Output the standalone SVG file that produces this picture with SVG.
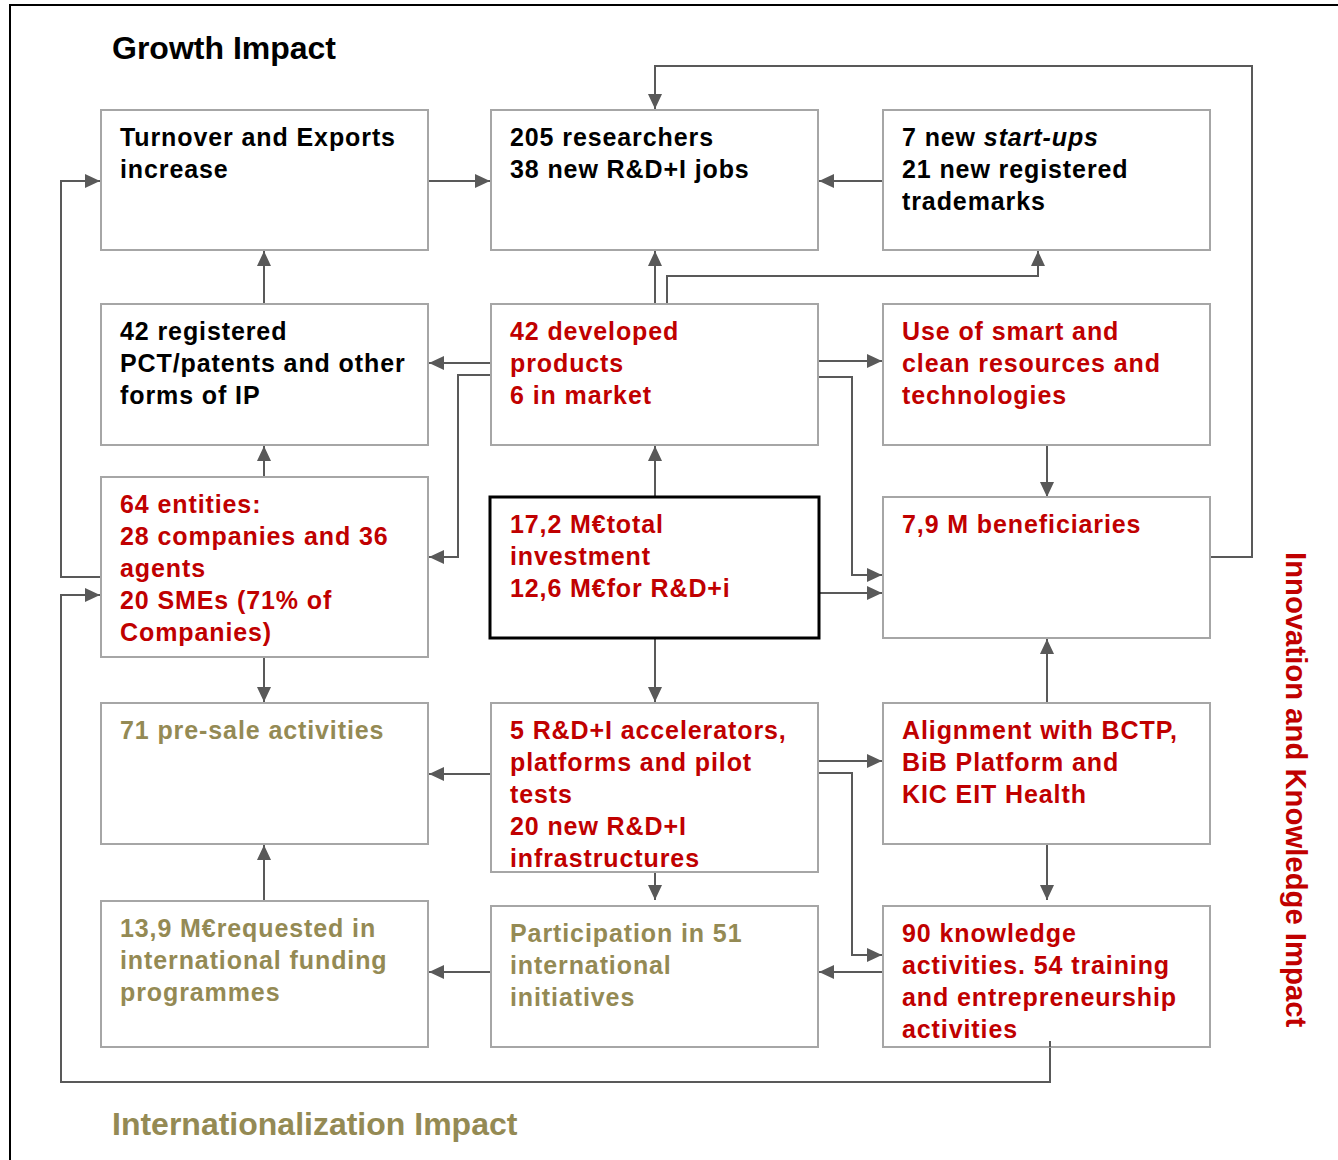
<svg xmlns="http://www.w3.org/2000/svg" width="1338" height="1160" viewBox="0 0 1338 1160">
<style>
.box{fill:#fff;stroke:#A6A6A6;stroke-width:2}
.main{fill:#fff;stroke:#000;stroke-width:3}
.t{font-family:"Liberation Sans",Arial,sans-serif;font-weight:bold;font-size:25px;letter-spacing:0.9px}
.k{fill:#000}.r{fill:#C00000}.o{fill:#948A54}
.c{fill:none;stroke:#595959;stroke-width:2}
.title{font-family:"Liberation Sans",Arial,sans-serif;font-weight:bold;font-size:32px}
</style>
<defs>
<marker id="ah" markerUnits="userSpaceOnUse" markerWidth="16" markerHeight="16" refX="15" refY="8" orient="auto">
<path d="M0,1 L15,8 L0,15 z" fill="#595959"/>
</marker>
</defs>
<rect width="1338" height="1160" fill="#fff"/>
<path d="M10,1160 V5 H1338" fill="none" stroke="#000" stroke-width="2"/>
<text class="title k" x="112" y="59">Growth Impact</text>
<text class="title o" x="112" y="1135">Internationalization Impact</text>
<text class="title r" style="font-size:29.3px" transform="translate(1286,552) rotate(90)">Innovation and Knowledge Impact</text>

<g id="connectors" class="c" marker-end="url(#ah)">
<path d="M428,181 H490"/>
<path d="M883,181 H819"/>
<path d="M1210,557 H1252 V66 H655 V109"/>
<path d="M264,304 V251"/>
<path d="M655,304 V251"/>
<path d="M667,304 V276 H1038 V251"/>
<path d="M491,363 H429"/>
<path d="M491,375 H458 V557 H429"/>
<path d="M818,361 H882"/>
<path d="M818,377 H852 V575 H882"/>
<path d="M819,593 H882"/>
<path d="M655,497 V446"/>
<path d="M1047,445 V497"/>
<path d="M1047,703 V639"/>
<path d="M264,477 V446"/>
<path d="M103,577 H61 V181 H100"/>
<path d="M1050,1041 V1082 H61 V595 H100"/>
<path d="M264,657 V702"/>
<path d="M655,638 V702"/>
<path d="M491,774 H429"/>
<path d="M819,761 H882"/>
<path d="M819,773 H852 V955 H882"/>
<path d="M655,872 V900"/>
<path d="M1047,844 V900"/>
<path d="M264,901 V845"/>
<path d="M491,972 H429"/>
<path d="M883,972 H819"/>
</g>

<g id="turnover"><rect class="box" x="101" y="110" width="327" height="140"/>
<text class="t k" x="120" y="146">Turnover and Exports</text><text class="t k" x="120" y="178">increase</text></g>
<g id="researchers"><rect class="box" x="491" y="110" width="327" height="140"/>
<text class="t k" x="510" y="146">205 researchers</text><text class="t k" x="510" y="178">38 new R&amp;D+I jobs</text></g>
<g id="startups"><rect class="box" x="883" y="110" width="327" height="140"/>
<text class="t k" x="902" y="146">7 new <tspan font-style="italic">start-ups</tspan></text><text class="t k" x="902" y="178">21 new registered</text><text class="t k" x="902" y="210">trademarks</text></g>

<g id="patents"><rect class="box" x="101" y="304" width="327" height="141"/>
<text class="t k" x="120" y="340">42 registered</text><text class="t k" x="120" y="372">PCT/patents and other</text><text class="t k" x="120" y="404">forms of IP</text></g>
<g id="products"><rect class="box" x="491" y="304" width="327" height="141"/>
<text class="t r" x="510" y="340">42 developed</text><text class="t r" x="510" y="372">products</text><text class="t r" x="510" y="404">6 in market</text></g>
<g id="smart"><rect class="box" x="883" y="304" width="327" height="141"/>
<text class="t r" x="902" y="340">Use of smart and</text><text class="t r" x="902" y="372">clean resources and</text><text class="t r" x="902" y="404">technologies</text></g>

<g id="entities"><rect class="box" x="101" y="477" width="327" height="180"/>
<text class="t r" x="120" y="513">64 entities:</text><text class="t r" x="120" y="545">28 companies and 36</text><text class="t r" x="120" y="577">agents</text><text class="t r" x="120" y="609">20 SMEs (71% of</text><text class="t r" x="120" y="641">Companies)</text></g>
<g id="investment"><rect class="main" x="490" y="497" width="329" height="141"/>
<text class="t r" x="510" y="533">17,2 M€total</text><text class="t r" x="510" y="565">investment</text><text class="t r" x="510" y="597">12,6 M€for R&amp;D+i</text></g>
<g id="beneficiaries"><rect class="box" x="883" y="497" width="327" height="141"/>
<text class="t r" x="902" y="533">7,9 M beneficiaries</text></g>

<g id="presale"><rect class="box" x="101" y="703" width="327" height="141"/>
<text class="t o" x="120" y="739">71 pre-sale activities</text></g>
<g id="accelerators"><rect class="box" x="491" y="703" width="327" height="169"/>
<text class="t r" x="510" y="739">5 R&amp;D+I accelerators,</text><text class="t r" x="510" y="771">platforms and pilot</text><text class="t r" x="510" y="803">tests</text><text class="t r" x="510" y="835">20 new R&amp;D+I</text><text class="t r" x="510" y="867">infrastructures</text></g>
<g id="alignment"><rect class="box" x="883" y="703" width="327" height="141"/>
<text class="t r" x="902" y="739">Alignment with BCTP,</text><text class="t r" x="902" y="771">BiB Platform and</text><text class="t r" x="902" y="803">KIC EIT Health</text></g>

<g id="funding"><rect class="box" x="101" y="901" width="327" height="146"/>
<text class="t o" x="120" y="937">13,9 M€requested in</text><text class="t o" x="120" y="969">international funding</text><text class="t o" x="120" y="1001">programmes</text></g>
<g id="participation"><rect class="box" x="491" y="906" width="327" height="141"/>
<text class="t o" x="510" y="942">Participation in 51</text><text class="t o" x="510" y="974">international</text><text class="t o" x="510" y="1006">initiatives</text></g>
<g id="knowledge"><rect class="box" x="883" y="906" width="327" height="141"/>
<text class="t r" x="902" y="942">90 knowledge</text><text class="t r" x="902" y="974">activities. 54 training</text><text class="t r" x="902" y="1006">and entrepreneurship</text><text class="t r" x="902" y="1038">activities</text></g>
<path d="M1050,1041 V1047" class="c"/>
</svg>
